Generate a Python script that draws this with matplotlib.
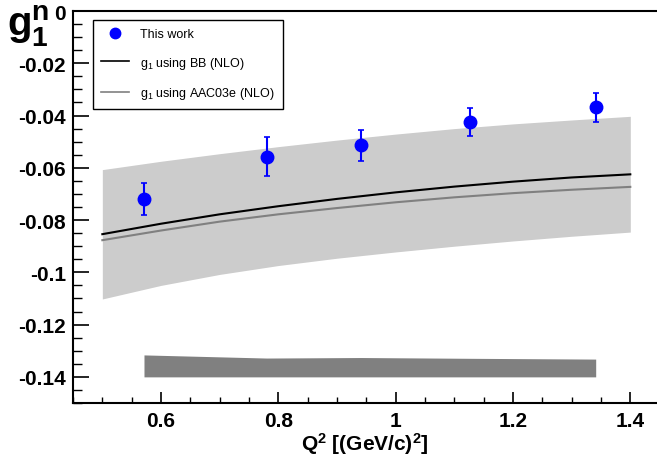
import matplotlib
matplotlib.use("Agg")
import matplotlib.pyplot as plt
from matplotlib.ticker import MultipleLocator, FuncFormatter
from matplotlib.lines import Line2D

plt.rcParams['font.family'] = ['Liberation Sans', 'DejaVu Sans']
plt.rcParams['mathtext.fontset'] = 'custom'
plt.rcParams['mathtext.rm'] = 'Liberation Sans'
plt.rcParams['mathtext.it'] = 'Liberation Sans:italic'
plt.rcParams['mathtext.bf'] = 'Liberation Sans:bold'

# measured g1n points
q2_data = [0.571, 0.780, 0.941, 1.126, 1.341]
g1_data = [-0.0719, -0.0558, -0.0514, -0.0426, -0.0369]
g1_err = [0.0060, 0.0075, 0.0060, 0.0054, 0.0056]

# systematic error band (top edge, bottom fixed)
sys_top = [-0.1316, -0.1328, -0.1326, -0.1329, -0.1332]
sys_base = -0.140

# model curves
q2_model = [0.5, 0.6, 0.7, 0.8, 0.9, 1.0, 1.1, 1.2, 1.3, 1.4]
g1_bb = [-0.0854, -0.0814, -0.0778, -0.0747, -0.0719, -0.0694, -0.0672, -0.0653, -0.0637, -0.0625]
g1_aac = [-0.0877, -0.0840, -0.0806, -0.0778, -0.0754, -0.0732, -0.0713, -0.0697, -0.0684, -0.0673]
band_hi = [-0.0607, -0.0575, -0.0546, -0.0519, -0.0494, -0.0471, -0.0450, -0.0432, -0.0417, -0.0403]
band_lo = [-0.1102, -0.1050, -0.1008, -0.0974, -0.0946, -0.0922, -0.0900, -0.0880, -0.0862, -0.0846]

fig = plt.figure(figsize=(6.57, 4.60), dpi=100)
ax = fig.add_axes([73 / 657, 1 - 404 / 460, 1 - 73 / 657, (404 - 12) / 460])

ax.fill_between(q2_model, band_lo, band_hi, color='#cccccc', lw=0, zorder=1)
ax.plot(q2_model, g1_bb, color='black', lw=1.5, zorder=2)
ax.plot(q2_model, g1_aac, color='#808080', lw=1.5, zorder=2)
ax.errorbar(q2_data, g1_data, yerr=g1_err, fmt='o', color='blue', ms=9,
            elinewidth=1.5, capsize=2, capthick=1.2, zorder=3)
ax.fill_between(q2_data, [sys_base] * len(q2_data), sys_top, color='#808080', lw=0, zorder=2)

ax.set_xlim(0.45, 1.4455)
ax.set_ylim(-0.15, 0.0)

ax.xaxis.set_major_locator(MultipleLocator(0.2))
ax.xaxis.set_minor_locator(MultipleLocator(0.05))
ax.yaxis.set_major_locator(MultipleLocator(0.02))
ax.yaxis.set_minor_locator(MultipleLocator(0.005))

def fmt(v, pos):
    return '%g' % round(v, 4)
ax.xaxis.set_major_formatter(FuncFormatter(fmt))
ax.yaxis.set_major_formatter(FuncFormatter(fmt))

ax.tick_params(axis='x', which='major', direction='in', length=8, width=1.2, pad=6, labelsize=15)
ax.tick_params(axis='x', which='minor', direction='in', length=4.5, width=1.0)
ax.tick_params(axis='y', which='major', direction='in', length=11.5, width=1.2, pad=5, labelsize=15)
ax.tick_params(axis='y', which='minor', direction='in', length=6.5, width=1.0)
for lab in ax.get_xticklabels() + ax.get_yticklabels():
    lab.set_fontweight('bold')

for side in ['left', 'bottom', 'top']:
    ax.spines[side].set_linewidth(1.5)
ax.spines['right'].set_visible(False)

ax.set_xlabel(r'Q$^{\mathbf{2}}$ [(GeV/c)$^{\mathbf{2}}$]', fontsize=15, fontweight='bold', labelpad=0)
fig.text(7 / 657, 1 - 36 / 460, r'$\mathbf{g}_{\mathbf{1}}^{\mathbf{n}}$', fontsize=29,
         ha='left', va='baseline')

handles = [
    Line2D([], [], color='blue', marker='o', ls='none', ms=7.5),
    Line2D([], [], color='black', lw=1.2),
    Line2D([], [], color='#808080', lw=1.2),
]
labels = ['This work', r'g$_{\mathregular{1}}$ using BB (NLO)', r'g$_{\mathregular{1}}$ using AAC03e (NLO)']
leg = ax.legend(handles, labels, loc='upper left',
                bbox_to_anchor=(93 / 657, 1 - 21 / 460), bbox_transform=fig.transFigure,
                fontsize=9, frameon=True, fancybox=False, framealpha=1,
                edgecolor='black', handlelength=2.2, handletextpad=0.95,
                labelspacing=1.15, borderpad=0.65, borderaxespad=0)
leg.get_frame().set_linewidth(1.0)

fig.savefig('out.png', dpi=100)
